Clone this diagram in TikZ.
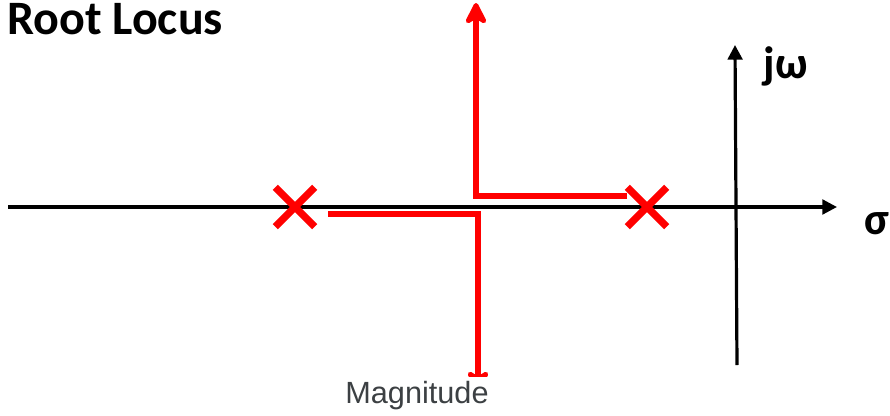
\documentclass[tikz,border=0pt]{standalone}
\usepackage{fontspec}
\setmainfont{Carlito}
\newfontfamily\capfont{Liberation Sans}
\usetikzlibrary{arrows.meta,shapes.misc}
\definecolor{capgray}{HTML}{3C4043}

\begin{document}
\begin{tikzpicture}[x=0.75pt,y=-0.75pt,
  axis/.style={line width=2.4pt,-{Triangle[length=11pt,width=11pt]}},
  locus/.style={draw=red,line width=3.8pt},
  tip/.style={-{Stealth[length=20pt,width=20pt,inset=6pt,round]}},
  pole/.style={cross out,draw=red,line width=5.5pt,minimum size=24pt,inner sep=0pt}]
\useasboundingbox (0,0) rectangle (890,415);
% axes
\coordinate (west) at (8,207);
\coordinate (east) at (837,207);
\coordinate (south) at (737,365);
\coordinate (north) at (735,45);
\draw[axis] (west) -- (east);
\draw[axis] (south) -- (north);
\node (jw) at (786,66) {\fontsize{34}{40}\selectfont\bfseries jω};
\node (sigma) at (877,224) {\fontsize{34}{40}\selectfont\bfseries σ};
% poles
\node[pole] (p1) at (295,207) {};
\node[pole] (p2) at (647,207) {};
% branches
\coordinate (a1) at (627,196);
\coordinate (a2) at (476,196);
\coordinate (a3) at (476,3);
\coordinate (b1) at (328,214);
\coordinate (b2) at (478,214);
\coordinate (b3) at (478,392);
\draw[locus,tip] (a1) -- (a2) -- (a3);
\begin{scope}
\clip (0,0) rectangle (890,376);
\draw[locus,tip] (b1) -- (b2) -- (b3);
\end{scope}
\node[anchor=north west,inner sep=0pt] (title) at (7,3) {\fontsize{36}{40}\selectfont\bfseries Root Locus};
\node[text=capgray] (caption) at (417,396) {\capfont\fontsize{23}{26}\selectfont Magnitude};
\end{tikzpicture}
\end{document}
